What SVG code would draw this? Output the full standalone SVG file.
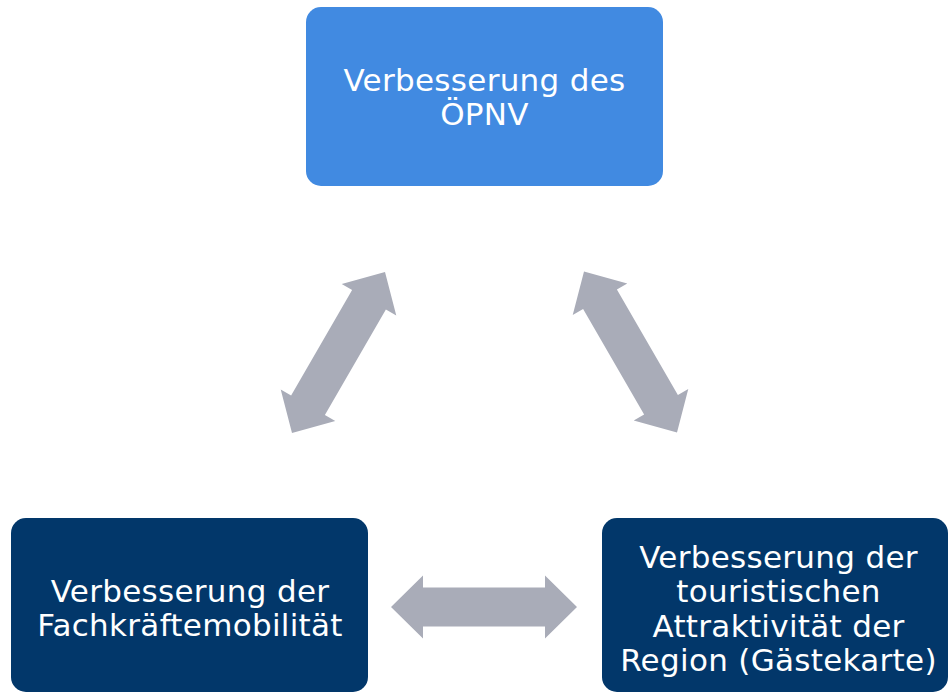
<svg xmlns="http://www.w3.org/2000/svg" width="948" height="693" viewBox="0 0 948 693">
  <style>
    .box-light { fill: #418AE1; }
    .box-dark { fill: #02376A; }
    .label { font-family: "DejaVu Sans", Verdana, sans-serif; font-size: 31px; letter-spacing: 0.3px; fill: #FFFFFF; text-anchor: middle; }
    .arrow { fill: #A9ACB8; }
  </style>
  <defs>
    <polygon id="dbl-arrow" points="-93,0 -61,-31.5 -61,-19.5 61,-19.5 61,-31.5 93,0 61,31.5 61,19.5 -61,19.5 -61,31.5"/>
  </defs>
  <rect width="948" height="693" fill="#FFFFFF"/>
  <g id="connectors" class="arrow">
    <use href="#dbl-arrow" transform="translate(338.5,352.5) rotate(-60)"/>
    <use href="#dbl-arrow" transform="translate(630.5,352) rotate(60)"/>
    <use href="#dbl-arrow" transform="translate(484,607)"/>
  </g>
  <g id="node-oepnv">
    <rect class="box-light" x="306" y="7" width="357" height="179" rx="15"/>
    <text class="label" x="484.5" y="91">Verbesserung des</text>
    <text class="label" x="484.5" y="125">ÖPNV</text>
  </g>
  <g id="node-fachkraefte">
    <rect class="box-dark" x="11" y="518" width="357" height="174" rx="15"/>
    <text class="label" x="190" y="602">Verbesserung der</text>
    <text class="label" x="190" y="636">Fachkräftemobilität</text>
  </g>
  <g id="node-tourismus">
    <rect class="box-dark" x="602" y="518" width="346" height="174" rx="15"/>
    <text class="label" x="778.5" y="568">Verbesserung der</text>
    <text class="label" x="778.5" y="602">touristischen</text>
    <text class="label" x="778.5" y="637">Attraktivität der</text>
    <text class="label" x="778.5" y="671">Region (Gästekarte)</text>
  </g>
</svg>
